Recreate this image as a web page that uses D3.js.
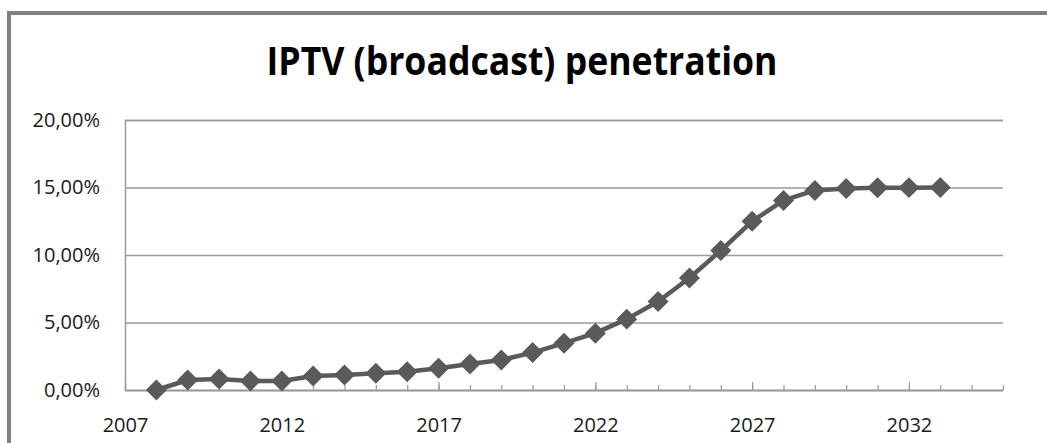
<!DOCTYPE html>
<html>
<head>
<meta charset="utf-8">
<script src="https://cdn.jsdelivr.net/npm/d3@7"></script>
<style>
  html, body { margin: 0; padding: 0; background: #fff; }
  svg { display: block; }
  text { font-family: "Open Sans", sans-serif; }
</style>
</head>
<body>
<script>
const width  = 1047,
      height = 443,
      margin = { top: 120, right: 44, bottom: 53, left: 125 };

// data
const years  = d3.range(2008, 2034);
const values = [0.0000, 0.0074, 0.0082, 0.0067, 0.0066, 0.0104, 0.0111, 0.0124,
                0.0136, 0.0161, 0.0193, 0.0223, 0.0277, 0.0347, 0.0421, 0.0525,
                0.0656, 0.0830, 0.1033, 0.1250, 0.1404, 0.1478, 0.1492, 0.1498,
                0.1499, 0.1500];
const yTicks = [0, 0.05, 0.10, 0.15, 0.20];
const xMajor = [2007, 2012, 2017, 2022, 2027, 2032];
const xMinor = d3.range(2007, 2036);
const title  = 'IPTV (broadcast) penetration';

const data = years.map((y, i) => ({ year: y, value: values[i] }));

const svg = d3.select('body').append('svg')
  .attr('width', width)
  .attr('height', height);

// outer frame (top + left edge visible)
svg.append('path')
  .attr('d', `M9,${height} V13 H${width}`)
  .attr('fill', 'none')
  .attr('stroke', '#808080')
  .attr('stroke-width', 4);

svg.append('text')
  .attr('x', 522)
  .attr('y', 75)
  .attr('text-anchor', 'middle')
  .attr('font-size', 39)
  .attr('font-weight', 700)
  .attr('fill', '#000')
  .attr('textLength', 511)
  .attr('lengthAdjust', 'spacingAndGlyphs')
  .text(title);

const x = d3.scaleLinear()
  .domain([2007, 2035])
  .range([margin.left, width - margin.right]);

const y = d3.scaleLinear()
  .domain([0, 0.20])
  .range([height - margin.bottom, margin.top]);

const fmt = v => d3.format('.2f')(v * 100).replace('.', ',') + '%';

// gridlines + y labels
const yAxis = svg.append('g')
  .attr('transform', `translate(${margin.left},0)`)
  .call(d3.axisLeft(y).tickValues(yTicks).tickFormat(fmt)
    .tickSize(-(width - margin.left - margin.right)).tickPadding(25));

yAxis.select('.domain').attr('stroke', '#9a9a9a').attr('stroke-width', 1.5);
yAxis.selectAll('.tick line').attr('stroke', '#9a9a9a').attr('stroke-width', 1.5);
yAxis.selectAll('.tick text')
  .attr('font-family', '"Open Sans", sans-serif')
  .attr('font-size', 20)
  .attr('fill', '#1a1a1a');

// x axis, ticks pointing up into the plot
const xAxisMinor = svg.append('g')
  .attr('transform', `translate(0,${y(0)})`)
  .call(d3.axisTop(x).tickValues(xMinor).tickFormat('').tickSize(5).tickSizeOuter(0));
xAxisMinor.select('.domain').attr('stroke', '#9a9a9a').attr('stroke-width', 1.5);
xAxisMinor.selectAll('.tick line').attr('stroke', '#9a9a9a').attr('stroke-width', 1.2);

const xAxisMajor = svg.append('g')
  .attr('transform', `translate(0,${y(0)})`)
  .call(d3.axisTop(x).tickValues(xMajor).tickFormat(d3.format('d')).tickSize(8).tickSizeOuter(0));
xAxisMajor.select('.domain').remove();
xAxisMajor.selectAll('.tick line').attr('stroke', '#9a9a9a').attr('stroke-width', 1.2);
xAxisMajor.selectAll('.tick text')
  .attr('font-family', '"Open Sans", sans-serif')
  .attr('font-size', 20)
  .attr('fill', '#1a1a1a')
  .attr('y', 42);

// series
const line = d3.line()
  .x(d => x(d.year))
  .y(d => y(d.value));

svg.append('path')
  .datum(data)
  .attr('d', line)
  .attr('fill', 'none')
  .attr('stroke', '#5a5a5a')
  .attr('stroke-width', 4.5)
  .attr('stroke-linejoin', 'round');

svg.append('g')
  .selectAll('path')
  .data(data)
  .join('path')
  .attr('d', d3.symbol(d3.symbolSquare, 220)())
  .attr('transform', d => `translate(${x(d.year)},${y(d.value)}) rotate(45)`)
  .attr('fill', '#5a5a5a');
</script>
</body>
</html>
